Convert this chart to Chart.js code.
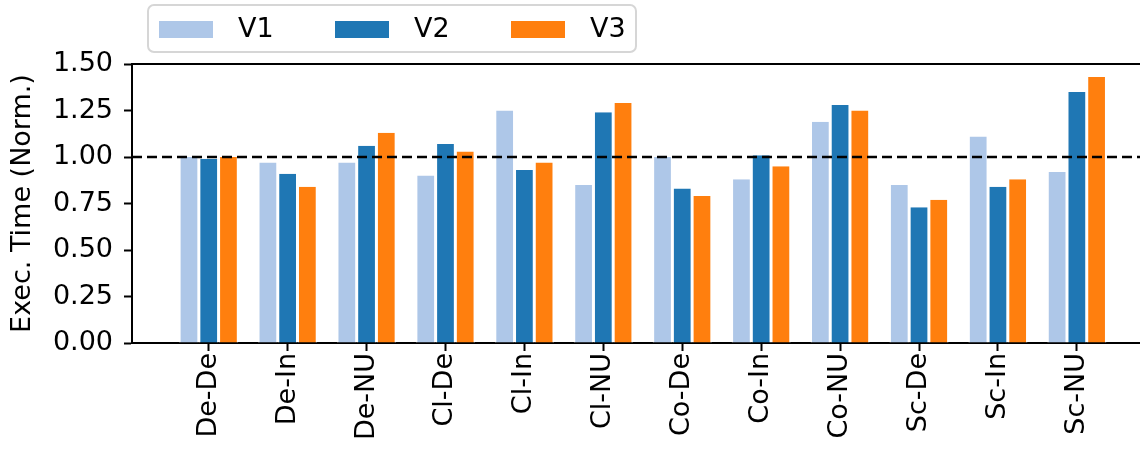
<!DOCTYPE html>
<html>
<head>
<meta charset="utf-8">
<script src="https://cdn.jsdelivr.net/npm/chart.js@4/dist/chart.umd.min.js"></script>
<style>
  html, body { margin: 0; padding: 0; background: #fff; }
  #wrap { width: 1140px; height: 454px; }
</style>
</head>
<body>
<div id="wrap"><canvas id="c" width="1140" height="454"></canvas></div>
<script>
// Workload configurations (x axis)
const categories = ['De-De', 'De-In', 'De-NU', 'Cl-De', 'Cl-In', 'Cl-NU',
                    'Co-De', 'Co-In', 'Co-NU', 'Sc-De', 'Sc-In', 'Sc-NU'];

// Normalized execution time per variant
const v1 = [1.00, 0.97, 0.97, 0.90, 1.25, 0.85, 1.00, 0.88, 1.19, 0.85, 1.11, 0.92];
const v2 = [0.99, 0.91, 1.06, 1.07, 0.93, 1.24, 0.83, 1.01, 1.28, 0.73, 0.84, 1.35];
const v3 = [1.00, 0.84, 1.13, 1.03, 0.97, 1.29, 0.79, 0.95, 1.25, 0.77, 0.88, 1.43];

const seriesNames = ['V1', 'V2', 'V3'];
const seriesColors = ['#aec7e8', '#1f77b4', '#ff7f0e'];

// y axis ticks and the baseline reference
const yTicks = [0, 0.25, 0.5, 0.75, 1.0, 1.25, 1.5];
const baseline = 1.0;

const xMin = -0.972, xMax = 11.8;
const FONT = 'DejaVu Sans';
const FS = 27;

Chart.defaults.font.family = FONT;
Chart.defaults.font.size = FS;
Chart.defaults.color = '#000';

function barSet(i, values) {
  return {
    type: 'bar',
    label: seriesNames[i],
    data: values.map((v, k) => ({ x: k, y: v })),
    backgroundColor: seriesColors[i],
    borderColor: '#ffffff',
    borderWidth: { top: 0, bottom: 0, left: 1.5, right: 1.5 },
    borderSkipped: false,
    categoryPercentage: 0.75,
    barPercentage: 1.0,
    order: 1
  };
}

// Top spine of the axes box
const topSpine = {
  id: 'topSpine',
  afterDraw(chart) {
    const { ctx, chartArea } = chart;
    ctx.save();
    ctx.strokeStyle = '#000';
    ctx.lineWidth = 2;
    ctx.beginPath();
    ctx.moveTo(chartArea.left - 1, chartArea.top);
    ctx.lineTo(chartArea.right, chartArea.top);
    ctx.stroke();
    ctx.restore();
  }
};

// Framed legend in the upper-left
const boxLegend = {
  id: 'boxLegend',
  afterDraw(chart) {
    const { ctx } = chart;
    const bx = 148, by = 5, bw = 488, bh = 47, r = 6;
    ctx.save();
    ctx.fillStyle = 'rgba(255,255,255,0.8)';
    ctx.strokeStyle = '#d6d6d6';
    ctx.lineWidth = 2;
    ctx.beginPath();
    ctx.roundRect(bx, by, bw, bh, r);
    ctx.fill();
    ctx.stroke();
    ctx.font = FS + 'px "' + FONT + '"';
    ctx.textBaseline = 'middle';
    ctx.fillStyle = '#000';
    const bars = chart.data.datasets.filter(d => d.type === 'bar');
    const cy = by + bh / 2 + 1;
    let x = bx + 11;
    bars.forEach(d => {
      ctx.fillStyle = d.backgroundColor;
      ctx.fillRect(x, cy - 8.5, 54, 17);
      ctx.fillStyle = '#000';
      ctx.fillText(d.label, x + 79, cy);
      x += 176;
    });
    ctx.restore();
  }
};

new Chart(document.getElementById('c'), {
  data: {
    datasets: [
      barSet(0, v1),
      barSet(1, v2),
      barSet(2, v3),
      {
        type: 'line',
        label: 'baseline',
        data: [{ x: xMin, y: baseline }, { x: xMax, y: baseline }],
        borderColor: '#000',
        borderWidth: 2.5,
        borderDash: [10, 5],
        pointRadius: 0,
        fill: false,
        order: 0
      }
    ]
  },
  options: {
    responsive: false,
    animation: false,
    layout: { padding: { top: 64, right: 0, bottom: 0, left: 0 } },
    plugins: { legend: { display: false }, tooltip: { enabled: false } },
    scales: {
      x: {
        type: 'linear',
        min: xMin,
        max: xMax,
        offset: false,
        afterFit(s) { s.height = 111; s.paddingLeft = 0; s.paddingRight = 0; },
        afterBuildTicks(s) { s.ticks = categories.map((_, i) => ({ value: i })); },
        ticks: {
          autoSkip: false,
          minRotation: 90,
          maxRotation: 90,
          padding: 2,
          callback: v => categories[v]
        },
        grid: { display: true, offset: false, drawOnChartArea: false, drawTicks: true, tickLength: 8, tickColor: '#000', tickWidth: 2 },
        border: { display: true, color: '#000', width: 2 }
      },
      y: {
        min: 0,
        max: 1.5,
        afterFit(s) { s.width = 132; s.paddingTop = 0; s.paddingBottom = 0; },
        afterBuildTicks(s) { s.ticks = yTicks.map(v => ({ value: v })); },
        ticks: { padding: 11, callback: v => v.toFixed(2) },
        grid: { display: true, offset: false, drawOnChartArea: false, drawTicks: true, tickLength: 8, tickColor: '#000', tickWidth: 2 },
        border: { display: true, color: '#000', width: 2 },
        title: { display: true, text: 'Exec. Time (Norm.)', padding: { top: 7, bottom: 0 }, font: { size: FS } }
      }
    }
  },
  plugins: [topSpine, boxLegend]
});
</script>
</body>
</html>
